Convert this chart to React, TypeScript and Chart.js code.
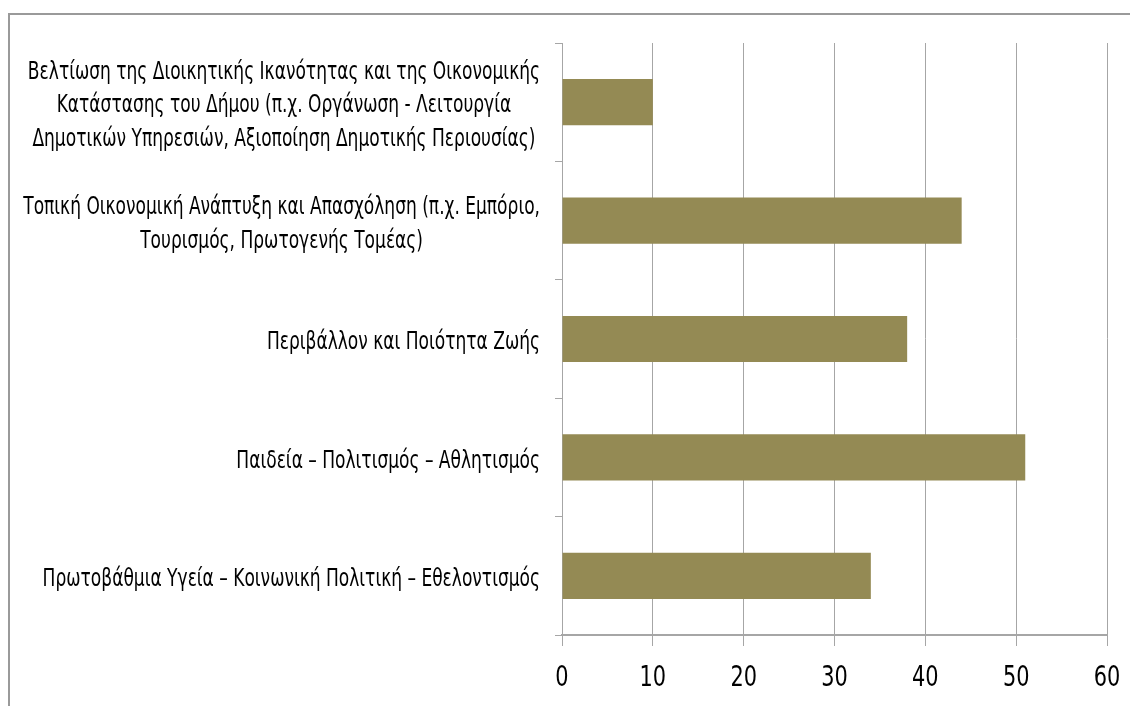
import { useEffect, useRef } from 'react';
import { Chart, registerables } from 'chart.js';

Chart.register(...registerables);

const categoryLines: string[][] = [
  [
    'Βελτίωση της Διοικητικής Ικανότητας και της Οικονομικής',
    'Κατάστασης του Δήμου (π.χ. Οργάνωση - Λειτουργία',
    'Δημοτικών Υπηρεσιών, Αξιοποίηση Δημοτικής Περιουσίας)',
  ],
  [
    'Τοπική Οικονομική Ανάπτυξη και Απασχόληση (π.χ. Εμπόριο,',
    'Τουρισμός, Πρωτογενής Τομέας)',
  ],
  ['Περιβάλλον και Ποιότητα Ζωής'],
  ['Παιδεία – Πολιτισμός – Αθλητισμός'],
  ['Πρωτοβάθμια Υγεία – Κοινωνική Πολιτική – Εθελοντισμός'],
];

const values: number[] = [10, 44, 38, 51, 34];

const xMin = 0;
const xMax = 60;
const xStep = 10;

const FONT = "'DejaVu Sans Condensed', 'DejaVu Sans', sans-serif";
const SQUEEZE = 0.79;

const frameAndLabels = {
  id: 'frameAndLabels',
  beforeDraw(chart: any) {
    const ctx = chart.ctx;
    ctx.save();
    ctx.fillStyle = '#ffffff';
    ctx.fillRect(0, 0, chart.width, chart.height);
    ctx.strokeStyle = '#9a9a9a';
    ctx.lineWidth = 2;
    ctx.strokeRect(9, 14, chart.width + 50, chart.height + 50);
    ctx.restore();
  },
  afterDraw(chart: any) {
    const ctx = chart.ctx;
    const yScale = chart.scales.y;
    const xScale = chart.scales.x;
    const rightEdge = yScale.right - 22;
    const lineH = 33.5;
    ctx.save();
    ctx.font = `24px ${FONT}`;
    ctx.fillStyle = '#000000';
    ctx.textAlign = 'center';
    ctx.textBaseline = 'middle';
    categoryLines.forEach((lines, i) => {
      const cy = yScale.getPixelForValue(i) + 4;
      const maxW = Math.max(...lines.map((l) => ctx.measureText(l).width)) * SQUEEZE;
      const cx = rightEdge - maxW / 2;
      lines.forEach((line, j) => {
        const y = cy + (j - (lines.length - 1) / 2) * lineH;
        ctx.save();
        ctx.translate(cx, y);
        ctx.scale(SQUEEZE, 1);
        ctx.fillText(line, 0, 0);
        ctx.restore();
      });
    });
    // x tick labels
    ctx.font = `29px ${FONT}`;
    ctx.textBaseline = 'middle';
    xScale.ticks.forEach((t: any) => {
      const px = xScale.getPixelForValue(t.value);
      ctx.save();
      ctx.translate(px, 678);
      ctx.scale(0.8, 1);
      ctx.fillText(String(t.value), 0, 0);
      ctx.restore();
    });
    ctx.restore();
  },
};

export default function App() {
  const canvasRef = useRef<HTMLCanvasElement | null>(null);

  useEffect(() => {
    if (!canvasRef.current) return;
    const chart = new Chart(canvasRef.current, {
      type: 'bar',
      data: {
        labels: categoryLines.map((l) => l.join(' ')),
        datasets: [
          {
            data: values,
            backgroundColor: '#948A54',
            borderWidth: 0,
            categoryPercentage: 1,
            barPercentage: 0.39,
          },
        ],
      },
      options: {
        indexAxis: 'y',
        animation: false,
        responsive: false,
        layout: { padding: { top: 43, right: 23, left: 0, bottom: 0 } },
        plugins: { legend: { display: false }, tooltip: { enabled: false } },
        scales: {
          x: {
            min: xMin,
            max: xMax,
            ticks: {
              stepSize: xStep,
              display: false,
            },
            grid: {
              color: '#a6a6a6',
              lineWidth: 1,
              tickLength: 11,
            },
            border: { display: true, color: '#a6a6a6', width: 2 },
            afterFit: (scale: any) => {
              scale.height = 71;
            },
          },
          y: {
            ticks: { display: false },
            grid: {
              drawOnChartArea: false,
              color: '#a6a6a6',
              tickLength: 7,
            },
            border: { display: true, color: '#a6a6a6', width: 1 },
            afterFit: (scale: any) => {
              scale.width = 562;
            },
          },
        },
      },
      plugins: [frameAndLabels],
    });
    return () => chart.destroy();
  }, []);

  return (
    <div style={{ position: 'fixed', left: 0, top: 0, width: 1130, height: 706, background: '#fff' }}>
      <canvas ref={canvasRef} width={1130} height={706} style={{ display: 'block' }} />
    </div>
  );
}
